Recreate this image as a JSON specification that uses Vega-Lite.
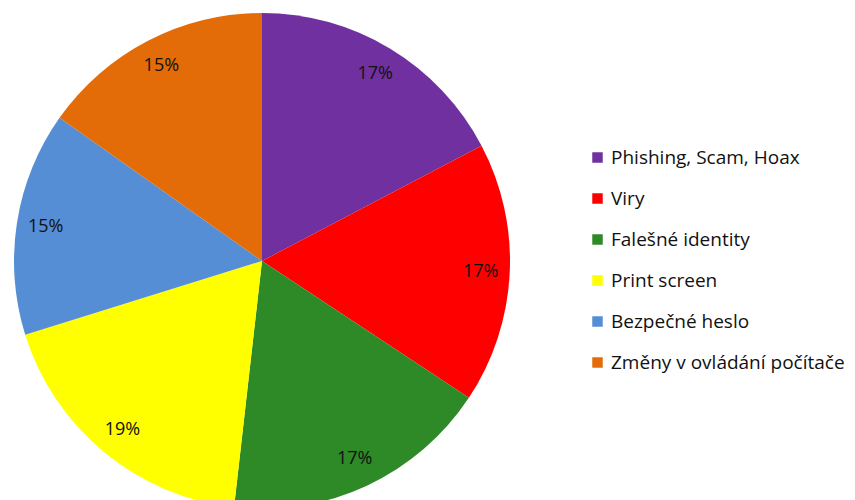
{
  "$schema": "https://vega.github.io/schema/vega-lite/v6.json",
  "width": 524,
  "height": 522,
  "autosize": {"type": "none"},
  "padding": {"left": 0, "top": 0, "right": 331, "bottom": 0},
  "background": "white",
  "view": {"stroke": null},
  "data": {
    "values": [
      {"kategorie": "Phishing, Scam, Hoax", "podil": 17.3, "popisek": "17%", "poradi": 1},
      {"kategorie": "Viry", "podil": 17.0, "popisek": "17%", "poradi": 2},
      {"kategorie": "Falešné identity", "podil": 17.5, "popisek": "17%", "poradi": 3},
      {"kategorie": "Print screen", "podil": 18.4, "popisek": "19%", "poradi": 4},
      {"kategorie": "Bezpečné heslo", "podil": 14.6, "popisek": "15%", "poradi": 5},
      {"kategorie": "Změny v ovládání počítače", "podil": 15.2, "popisek": "15%", "poradi": 6}
    ]
  },
  "encoding": {
    "theta": {"field": "podil", "type": "quantitative", "stack": true},
    "order": {"field": "poradi", "type": "quantitative"}
  },
  "layer": [
    {
      "mark": {"type": "arc", "outerRadius": 248},
      "encoding": {
        "color": {
          "field": "kategorie",
          "type": "nominal",
          "sort": null,
          "scale": {
            "domain": ["Phishing, Scam, Hoax", "Viry", "Falešné identity", "Print screen", "Bezpečné heslo", "Změny v ovládání počítače"],
            "range": ["#7030A0", "#FF0000", "#2D8A27", "#FFFF00", "#558ED5", "#E36C09"]
          },
          "legend": {
            "title": null,
            "orient": "none",
            "legendX": 588,
            "legendY": 148,
            "symbolType": "square",
            "symbolSize": 110,
            "symbolStrokeWidth": 0,
            "labelFont": "Open Sans",
            "labelFontSize": 19,
            "labelColor": "#111111",
            "labelOffset": 4,
            "labelLimit": 400,
            "rowPadding": 21
          }
        }
      }
    },
    {
      "mark": {"type": "text", "radius": 219, "font": "Open Sans", "fontSize": 18, "color": "#111111", "align": "center", "baseline": "middle"},
      "encoding": {
        "text": {"field": "popisek", "type": "nominal"}
      }
    }
  ]
}
